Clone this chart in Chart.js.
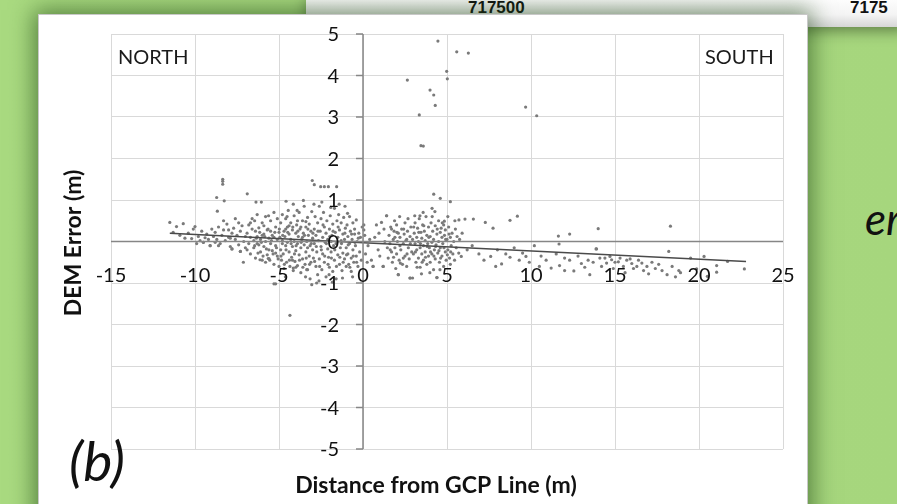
<!DOCTYPE html>
<html>
<head>
<meta charset="utf-8">
<script src="https://cdn.jsdelivr.net/npm/chart.js@4.4.1/dist/chart.umd.min.js"></script>
<style>
    html, body {margin: 0; padding: 0;}
    body {
        width: 897px; height: 504px; overflow: hidden; position: relative;
        background: linear-gradient(90deg, #a9da80 0%, #a6d67d 100%);
        font-family: Lato, "Open Sans", sans-serif;
    }
    #topbar {
        position: absolute; left: 306px; top: -4px; width: 600px; height: 31px;
        background: linear-gradient(180deg, #ffffff 0%, #f4f4f4 60%, #d6d6d6 100%);
        box-shadow: 0 4px 14px rgba(40, 60, 30, 0.55);
    }
    .coord {position: absolute; top: 2px; font: bold 17px "Liberation Sans", Arial, sans-serif; color: #111;}
    #panel {
        position: absolute; left: 38px; top: 14px; width: 768px; height: 520px;
        background: #fff; border: 1px solid #c8c8c8;
        box-shadow: 0 0 22px 4px rgba(30, 70, 20, 0.6);
    }
    #wrap {position: absolute; left: 0; top: 0; width: 897px; height: 504px;}
    .lbl {position: absolute; color: #1a1a1a; font-size: 20px; white-space: nowrap;}
    .ital {position: absolute; font-style: italic; color: #111; white-space: nowrap;}
</style>
</head>
<body>
<div id="topbar">
    <span class="coord" style="left:162px">717500</span>
    <span class="coord" style="left:544px">7175</span>
</div>
<div id="panel"></div>
<div class="ital" style="left:865px; top:192px; font-size:44px;">er</div>
<div id="wrap"><canvas id="demChart" width="897" height="504"></canvas></div>
<div class="lbl" style="left:118px; top:44px;">NORTH</div>
<div class="lbl" style="left:705px; top:44px;">SOUTH</div>
<div class="ital" style="left:69px; top:427px; font-size:55px;">(b)</div>
<script>
// axis ticks
var xTicks = [-15, -10, -5, 0, 5, 10, 15, 20, 25];
var yTicks = [-5, -4, -3, -2, -1, 0, 1, 2, 3, 4, 5];

// points, [distance (m), DEM error (m)]
var farNorth = [[-11.5,0.46],[-11.1,0.36],[-10.7,0.43],[-10.0,0.36],[-10.1,0.30],[-11.3,0.22],[-10.9,0.15],[-10.4,0.2],[-10.2,0.07],[-9.8,0.12],[-9.6,0.25],[-9.5,-0.02],[-9.3,0.18],[-9.1,-0.1],[-9.2,0.05],[-9.0,0.3],[-9.4,0.09],[-10.6,0.08],[-9.9,-0.05],[-9.7,0.02]];

var north1 = [[-8.9,0.12],[-8.8,0.22],[-8.7,0.05],[-8.6,0.35],[-8.5,-0.05],[-8.4,0.15],[-8.3,0.28],[-8.2,0.02],[-8.1,0.42],[-8.0,0.1],[-7.9,-0.12],[-7.8,0.2],[-7.8,-0.18],[-7.7,0.32],[-7.6,0.05],[-7.5,0.15],[-7.4,-0.08],[-7.3,0.25],[-7.3,-0.24],[-7.2,0.38],[-7.1,0.0],[-7.0,0.12],[-7.0,-0.15],[-8.6,-0.1],[-8.3,0.5],[-7.6,0.55],[-8.0,0.28],[-7.4,0.45],[-8.8,-0.02],[-7.9,0.08]];

var north2 = [[-6.9,0.2],[-6.8,-0.05],[-6.8,0.4],[-6.7,0.1],[-6.7,-0.3],[-6.6,0.55],[-6.5,0.02],[-6.5,-0.15],[-6.4,0.25],[-6.4,-0.4],[-6.3,0.12],[-6.3,0.65],[-6.2,-0.08],[-6.2,0.33],[-6.1,-0.25],[-6.1,0.05],[-6.0,0.45],[-6.0,-0.45],[-5.9,0.18],[-5.9,-0.12],[-5.8,0.6],[-5.8,0.0],[-5.7,-0.32],[-5.7,0.28],[-5.6,0.08],[-5.6,-0.41],[-5.5,0.5],[-5.5,-0.05],[-5.4,0.15],[-5.4,-0.22],[-5.3,0.7],[-5.3,-0.55],[-5.2,0.35],[-5.2,-0.1],[-5.1,0.05],[-5.1,-0.35],[-5.0,0.22],[-5.0,-0.6],[-6.9,-0.2],[-6.6,0.3],[-6.0,0.15],[-5.9,0.38],[-5.6,-0.2],[-5.3,0.1],[-5.2,-0.28],[-6.3,-0.05],[-6.7,0.45],[-5.8,-0.5],[-5.5,0.25],[-5.1,0.55]];

var north3 = [[-4.95,0.1],[-4.9,-0.2],[-4.9,0.45],[-4.85,-0.45],[-4.8,0.02],[-4.8,0.65],[-4.75,-0.3],[-4.7,0.25],[-4.7,-0.65],[-4.65,0.12],[-4.6,-0.1],[-4.6,0.55],[-4.55,-0.5],[-4.5,0.35],[-4.5,-0.02],[-4.45,0.75],[-4.4,-0.25],[-4.4,0.18],[-4.35,-0.6],[-4.3,0.05],[-4.3,0.45],[-4.25,-0.38],[-4.2,0.28],[-4.2,-0.12],[-4.15,-0.7],[-4.1,0.62],[-4.1,0.0],[-4.05,-0.48],[-4.0,0.2],[-4.0,-0.22],[-3.95,0.4],[-3.9,-0.05],[-3.9,-0.58],[-3.85,0.12],[-3.8,0.7],[-3.8,-0.32],[-3.75,0.3],[-3.7,-0.15],[-3.7,-0.75],[-3.65,0.05],[-3.6,0.5],[-3.6,-0.42],[-3.55,0.2],[-3.5,-0.08],[-3.5,0.85],[-3.45,-0.55],[-3.4,0.35],[-3.4,-0.25],[-3.35,0.0],[-3.3,-0.68],[-3.3,0.58],[-3.25,0.15],[-3.2,-0.35],[-3.2,0.42],[-3.15,-0.1],[-3.1,0.25],[-3.1,-0.5],[-3.05,0.72],[-3.0,0.08],[-3.0,-0.2],[-4.6,0.3],[-4.2,-0.45],[-3.9,0.5],[-3.6,0.1],[-3.3,-0.15],[-4.8,-0.05],[-4.4,0.38],[-4.0,-0.62],[-3.7,0.35],[-3.4,0.48]];

var north4 = [[-2.95,-0.4],[-2.9,0.3],[-2.9,-0.05],[-2.85,0.6],[-2.8,-0.6],[-2.8,0.15],[-2.75,-0.25],[-2.7,0.45],[-2.7,-0.8],[-2.65,0.02],[-2.6,0.85],[-2.6,-0.42],[-2.55,0.25],[-2.5,-0.12],[-2.5,0.55],[-2.45,-0.68],[-2.4,0.1],[-2.4,-0.3],[-2.35,0.7],[-2.3,0.35],[-2.3,-0.5],[-2.25,-0.02],[-2.2,0.2],[-2.2,-0.85],[-2.15,0.5],[-2.1,-0.18],[-2.1,0.05],[-2.05,-0.38],[-2.0,0.3],[-2.0,-0.62],[-1.95,0.62],[-1.9,0.0],[-1.9,-0.25],[-1.85,0.15],[-1.8,-0.72],[-1.8,0.42],[-1.75,-0.1],[-1.7,0.8],[-1.7,-0.45],[-1.65,0.22],[-1.6,-0.05],[-1.6,-0.9],[-1.55,0.5],[-1.5,0.1],[-1.5,-0.32],[-1.45,0.65],[-1.4,-0.55],[-1.4,0.28],[-1.35,-0.15],[-1.3,0.02],[-1.3,0.45],[-1.25,-0.7],[-1.2,0.18],[-1.2,-0.28],[-1.15,0.58],[-1.1,-0.42],[-1.1,0.05],[-1.05,0.32],[-1.0,-0.15],[-1.0,-0.6]];

var north5 = [[-0.95,0.4],[-0.9,-0.3],[-0.9,0.12],[-0.85,-0.55],[-0.8,0.6],[-0.8,-0.05],[-0.75,0.25],[-0.7,-0.4],[-0.7,-0.72],[-0.65,0.05],[-0.6,0.45],[-0.6,-0.2],[-0.55,-0.5],[-0.5,0.18],[-0.5,0.3],[-0.45,-0.1],[-0.4,-0.35],[-0.4,0.52],[-0.35,0.0],[-0.3,-0.6],[-0.25,0.2],[-0.2,-0.25],[-0.15,0.1],[-0.1,-0.45],[-0.05,0.35]];

var northCore = [[-6.45,-0.1],[-6.35,0.08],[-6.25,-0.28],[-6.15,0.22],[-6.05,-0.02],[-5.95,-0.35],[-5.85,0.12],[-5.75,-0.18],[-5.65,0.3],[-5.55,-0.45],[-5.45,0.02],[-5.35,-0.3],[-5.25,0.22],[-5.15,-0.15],[-5.05,-0.42],[-4.98,0.3],[-4.88,-0.35],[-4.78,0.15],[-4.68,-0.55],[-4.58,-0.2],[-4.48,0.22],[-4.38,-0.45],[-4.28,-0.05],[-4.18,0.35],[-4.08,-0.3],[-3.98,-0.1],[-3.88,0.25],[-3.78,-0.45],[-3.68,-0.02],[-3.58,-0.62],[-3.48,0.15],[-3.38,-0.4],[-3.28,0.3],[-3.18,-0.55],[-3.08,-0.05],[-2.98,0.2],[-2.88,-0.48],[-2.78,-0.12],[-2.68,0.25],[-2.58,-0.6],[-2.48,-0.2],[-2.38,0.4],[-2.28,-0.35],[-2.18,-0.05],[-2.08,-0.55],[-1.98,0.12],[-1.88,-0.4],[-1.78,0.25],[-1.68,-0.2],[-1.58,-0.6],[-1.48,0.35],[-1.38,-0.38],[-1.28,-0.05],[-1.18,-0.5],[-1.08,0.2],[-0.98,-0.32],[-0.88,-0.08],[-0.78,-0.62],[-0.68,0.18],[-0.58,-0.35],[-0.48,-0.02],[-0.38,-0.5],[-0.28,0.08],[-4.52,0.6],[-3.92,0.75],[-2.92,0.9],[-2.45,0.95],[-1.92,0.82],[-1.42,0.9],[-0.92,0.68],[-5.62,0.62],[-6.45,0.5],[-3.42,-0.85],[-2.62,-0.95],[-1.82,-0.98],[-1.22,-0.88],[-0.62,-0.85],[-4.62,-0.85],[-3.15,-0.9],[-2.02,-0.8]];

var south1 = [[0.05,0.4],[0.05,0.28],[0.1,0.15],[0.15,-0.3],[0.3,-0.1],[0.4,0.05],[0.5,-0.45],[0.6,-0.6],[0.7,0.1],[0.8,0.4],[0.9,-0.2],[1.0,-0.35],[1.1,0.46],[1.2,-0.6],[1.3,0.0],[1.4,0.62],[1.45,-0.15],[0.25,-0.5],[0.95,0.2],[1.25,0.3]];

var south2 = [[1.5,-0.4],[1.55,0.15],[1.6,-0.05],[1.65,0.35],[1.7,-0.25],[1.75,-0.5],[1.8,0.05],[1.85,0.25],[1.9,-0.15],[1.95,-0.65],[2.0,0.4],[2.0,-0.3],[2.05,0.0],[2.1,-0.8],[2.1,0.2],[2.15,-0.45],[2.2,0.1],[2.25,-0.2],[2.3,0.3],[2.35,-0.55],[2.4,-0.05],[2.45,0.18],[2.5,-0.35],[2.5,0.45],[2.55,0.02],[2.6,-0.6],[2.65,0.25],[2.7,-0.15],[2.75,-0.42],[2.8,0.12],[2.8,-0.88],[2.85,0.35],[2.9,-0.25],[2.95,-0.88],[2.95,0.05],[1.7,0.3],[2.2,-0.1],[2.6,0.05],[2.4,-0.4],[1.9,0.1]];

var south3 = [[3.0,-0.3],[3.05,0.2],[3.1,-0.05],[3.1,0.45],[3.15,-0.5],[3.2,0.1],[3.2,-0.2],[3.25,0.32],[3.3,-0.4],[3.3,0.0],[3.35,0.55],[3.4,-0.15],[3.4,-0.62],[3.45,0.22],[3.5,-0.3],[3.5,0.08],[3.55,0.4],[3.6,-0.1],[3.6,-0.45],[3.65,0.25],[3.7,-0.25],[3.7,0.02],[3.75,0.6],[3.8,-0.55],[3.8,0.15],[3.85,-0.05],[3.9,0.35],[3.9,-0.35],[3.95,-0.15],[4.0,0.12],[4.0,-0.5],[4.05,0.45],[4.1,-0.02],[4.1,-0.3],[4.15,0.25],[4.2,-0.68],[4.2,0.05],[4.25,-0.2],[4.3,0.38],[4.3,-0.42],[4.35,-0.08],[4.4,0.18],[4.4,-0.87],[4.45,-0.28],[4.5,0.5],[4.5,0.0],[4.55,-0.5],[4.6,0.22],[4.6,-0.15],[4.65,0.32],[4.7,-0.35],[4.7,0.1],[4.75,-0.05],[4.8,-0.6],[4.8,0.4],[4.85,0.15],[4.9,-0.25],[4.9,0.28],[4.95,-0.45],[5.0,0.05]];

var south4 = [[5.05,-0.2],[5.1,0.35],[5.15,-0.4],[5.2,0.1],[5.25,-0.1],[5.3,0.2],[5.35,-0.3],[5.4,0.0],[5.5,0.3],[5.55,-0.15],[5.6,0.12],[5.7,-0.28],[5.75,0.05],[5.85,-0.36],[5.9,0.2],[5.2,-0.55],[5.05,0.6]];

var southCore = [[1.62,-0.2],[1.82,-0.38],[2.02,0.22],[2.22,-0.52],[2.42,0.3],[2.62,-0.3],[2.82,-0.05],[3.02,0.35],[3.12,-0.25],[3.22,-0.62],[3.32,0.22],[3.42,-0.05],[3.52,-0.5],[3.62,0.38],[3.72,-0.38],[3.82,-0.12],[3.92,0.1],[4.02,-0.25],[4.12,0.6],[4.22,-0.35],[4.32,-0.12],[4.42,0.3],[4.52,-0.22],[4.62,-0.4],[4.72,0.45],[4.82,-0.15],[4.92,0.05],[5.02,-0.32],[5.12,0.18],[5.22,-0.25],[3.08,0.62],[3.58,0.7],[4.28,0.72],[2.68,0.55],[2.18,0.6],[3.48,-0.78],[3.98,-0.75],[4.58,-0.68],[5.45,-0.45],[1.88,0.5]];

var southTail = [[6.2,-0.2],[6.5,-0.1],[6.9,-0.3],[7.2,-0.45],[7.6,-0.36],[8.0,-0.2],[8.25,-0.54],[8.5,-0.3],[8.75,-0.38],[9.0,-0.15],[9.5,-0.28],[9.7,-0.36],[9.9,-0.5],[10.2,-0.1],[10.6,-0.35],[10.9,-0.45],[11.2,-0.64],[11.5,-0.3],[11.7,-0.58],[12.0,-0.4],[12.3,-0.45],[12.55,-0.71],[12.8,-0.35],[13.0,-0.53],[13.2,-0.62],[13.4,-0.45],[13.7,-0.5],[13.9,-0.18],[14.1,-0.4],[14.2,-0.6],[14.4,-0.4],[14.5,-0.52],[14.7,-0.36],[14.8,-0.44],[14.9,-0.65],[15.0,-0.5],[15.2,-0.49],[15.3,-0.4],[15.5,-0.6],[15.7,-0.45],[15.9,-0.42],[16.0,-0.53],[16.1,-0.65],[16.3,-0.6],[16.4,-0.45],[16.6,-0.52],[16.7,-0.7],[16.9,-0.6],[17.0,-0.78],[17.2,-0.5],[17.4,-0.65],[17.8,-0.7],[18.1,-0.8],[18.2,-0.24],[18.4,-0.6],[18.6,-0.85],[18.8,-0.7],[18.9,-0.75],[19.5,-0.4],[19.86,-0.66],[20.3,-0.36],[20.5,-0.84],[21.05,-0.58],[21.05,-0.74],[21.7,-0.48],[22.7,-0.66],[7.9,-0.6],[9.3,-0.45],[10.5,-0.6],[12.0,-0.7],[13.5,-0.8],[15.6,-0.75],[17.6,-0.55]];

var outliers = [[4.46,4.83],[5.58,4.57],[6.27,4.54],[4.98,4.10],[5.02,3.92],[2.64,3.89],[3.99,3.65],[4.21,3.53],[4.30,3.28],[3.35,3.05],[9.68,3.24],[10.34,3.03],[3.45,2.31],[3.59,2.30],[4.21,1.14],[4.60,1.04],[5.2,0.96],[4.11,0.80],[9.19,0.61],[8.75,0.51],[7.28,0.46],[7.74,0.32],[11.63,0.13],[12.3,0.18],[14.0,0.31],[18.3,0.37],[13.87,-0.18],[11.67,-0.06],[6.57,0.54],[6.07,0.54],[5.71,0.52],[5.47,0.5],[4.84,0.49],[3.39,0.62],[1.41,0.62],
    [-8.35,1.50],[-8.35,1.45],[-8.35,1.38],[-8.71,1.06],[-8.26,0.98],[-6.89,1.15],[-8.67,0.73],[-6.37,0.95],[-6.05,0.95],[-3.02,1.47],[-2.9,1.37],[-2.52,1.32],[-2.3,1.32],[-2.06,1.32],[-1.57,1.32],[-4.58,0.97],[-4.15,0.9],[-3.55,0.99],[-1.07,0.85],
    [-4.35,-1.78],[-7.12,-0.5],[-5.3,-1.02],[-5.2,-1.02],[-3.05,-1.04],[-2.76,-1.0],[-4.15,-0.64],[-3.35,-0.68],[-6.13,-0.44],[-5.64,-0.41],[-7.3,-0.24],[-7.8,-0.18],[-9.1,-0.1],[-9.5,-0.02],
    [2.1,-0.8],[2.8,-0.88],[4.4,-0.87],[1.2,-0.6],[0.6,-0.6]];

// linear trend line ends
var trendX = [-11.5, 22.8];
var trendY = [0.2, -0.48];

var allPts = [].concat(farNorth, north1, north2, north3, north4, north5, northCore, south1, south2, south3, south4, southCore, southTail, outliers);

var tickFont = '20px Lato, "Open Sans", sans-serif';

// excel style axes crossing at 0, labels drawn from the chart's scales
var crossAxes = {
    id: 'crossAxes',
    afterDatasetsDraw: function (chart) {
        var c = chart.ctx, xs = chart.scales.x, ys = chart.scales.y;
        var x0 = xs.getPixelForValue(0), y0 = ys.getPixelForValue(0);
        c.save();
        c.strokeStyle = '#868686';
        c.lineWidth = 1.5;
        c.beginPath();
        c.moveTo(xs.left, y0); c.lineTo(xs.right, y0);
        c.moveTo(x0, ys.top); c.lineTo(x0, ys.bottom);
        yTicks.forEach(function (v) {
            var py = ys.getPixelForValue(v);
            c.moveTo(x0 - 7, py); c.lineTo(x0, py);
        });
        c.stroke();
        c.fillStyle = '#111';
        c.font = tickFont;
        c.textAlign = 'right';
        c.textBaseline = 'middle';
        yTicks.forEach(function (v) {
            c.fillText(String(v), x0 - 24, ys.getPixelForValue(v) + 1);
        });
        c.textAlign = 'center';
        xTicks.forEach(function (v) {
            c.fillText(String(v), xs.getPixelForValue(v), y0 + 34);
        });
        c.font = 'bold 23px Lato, "Open Sans", sans-serif';
        c.fillText('Distance from GCP Line (m)', 436, 486);
        c.translate(74, 243);
        c.rotate(-Math.PI / 2);
        c.fillText('DEM Error (m)', 0, 0);
        c.restore();
    }
};

var ctx = document.getElementById("demChart");
var demChart = new Chart(ctx, {
    type: 'scatter',
    data: {
        datasets: [{
                label: 'DEM error',
                data: allPts.map(function (p) { return {x: p[0], y: p[1]}; }),
                backgroundColor: '#7a7a7a',
                borderWidth: 0,
                pointRadius: 1.6,
                order: 2
            }, {
                type: 'line',
                label: 'trend',
                data: trendX.map(function (x, i) { return {x: x, y: trendY[i]}; }),
                borderColor: '#4a4a4a',
                borderWidth: 1.5,
                pointRadius: 0,
                fill: false,
                order: 1
            }]
    },
    options: {
        responsive: false,
        animation: false,
        events: [],
        layout: {padding: {left: 111, top: 34, right: 114, bottom: 55}},
        plugins: {legend: {display: false}, tooltip: {enabled: false}},
        scales: {
            x: {
                type: 'linear', min: -15, max: 25,
                ticks: {display: false, stepSize: 5},
                grid: {color: '#d9d9d9', lineWidth: 1, drawTicks: false},
                border: {display: false}
            },
            y: {
                type: 'linear', min: -5, max: 5,
                ticks: {display: false, stepSize: 1},
                grid: {color: '#d9d9d9', lineWidth: 1, drawTicks: false},
                border: {display: false}
            }
        }
    },
    plugins: [crossAxes]
});
</script>
</body>
</html>
